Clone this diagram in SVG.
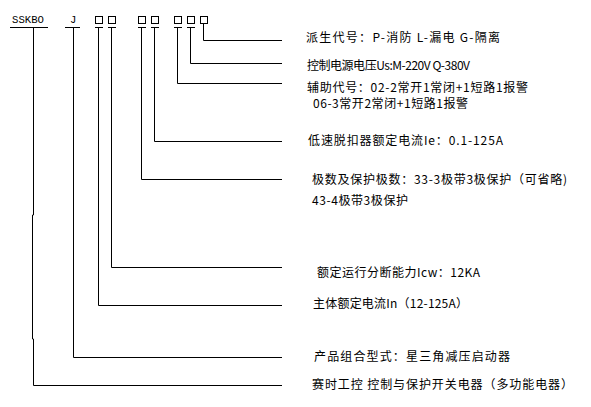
<svg xmlns="http://www.w3.org/2000/svg" width="591" height="407" viewBox="0 0 591 407">
<style>
.ln{fill:none;stroke:#000;stroke-width:1}
.bx{fill:#fff;stroke:#000;stroke-width:1}
.t{font-family:"Noto Sans CJK SC","Liberation Sans",sans-serif;font-size:12px;fill:#000}
.c{font-family:"Liberation Mono","DejaVu Sans Mono",monospace;font-size:10.5px;fill:#000}
</style>
<rect width="591" height="407" fill="#fff"/>
<g id="code">
<text class="c" x="12" y="23" textLength="32" lengthAdjust="spacingAndGlyphs">SSKBO</text>
<text class="c" x="70" y="23">J</text>
<rect class="bx" x="95.5" y="16.5" width="7" height="7"/>
<rect class="bx" x="108.5" y="16.5" width="7" height="7"/>
<rect class="bx" x="138.5" y="16.5" width="7" height="7"/>
<rect class="bx" x="151.5" y="16.5" width="7" height="7"/>
<rect class="bx" x="174.5" y="16.5" width="7" height="7"/>
<rect class="bx" x="187.5" y="16.5" width="7" height="7"/>
<rect class="bx" x="200.5" y="16.5" width="7" height="7"/>
</g>
<g id="connectors">
<path class="ln" d="M10,27.5H48"/>
<path class="ln" d="M33.5,27.5V215H32.5V339H33.5V385.5H282"/>
<path class="ln" d="M65,27.5H80M73.5,27.5V357.5H282"/>
<path class="ln" d="M95,27.5H103M98.5,27.5V305.5H282"/>
<path class="ln" d="M108,27.5H116M111.5,27.5V267.5H282"/>
<path class="ln" d="M138,27.5H146M141.5,27.5V179.5H282"/>
<path class="ln" d="M151,27.5H159M154.5,27.5V141.5H282"/>
<path class="ln" d="M174,27.5H182M177.5,27.5V83.5H282"/>
<path class="ln" d="M187,27.5H195M190.5,27.5V63.5H282"/>
<path class="ln" d="M203.5,23.5V40.5H282"/>
</g>
<g id="labels">
<text class="t" x="306" y="41.5" textLength="194" lengthAdjust="spacing">派生代号：P-消防 L-漏电 G-隔离</text>
<text class="t" x="307" y="70" textLength="163" lengthAdjust="spacing">控制电源电压Us:M-220V Q-380V</text>
<text class="t" x="307" y="91.5" textLength="221" lengthAdjust="spacing">辅助代号：02-2常开1常闭+1短路1报警</text>
<text class="t" x="313" y="107.5" textLength="155" lengthAdjust="spacing">06-3常开2常闭+1短路1报警</text>
<text class="t" x="308" y="144.5" textLength="195" lengthAdjust="spacing">低速脱扣器额定电流Ie：0.1-125A</text>
<text class="t" x="312" y="183.5" textLength="255" lengthAdjust="spacing">极数及保护极数：33-3极带3极保护（可省略)</text>
<text class="t" x="312" y="204.5" textLength="96" lengthAdjust="spacing">43-4极带3极保护</text>
<text class="t" x="317" y="277" textLength="163" lengthAdjust="spacing">额定运行分断能力Icw：12KA</text>
<text class="t" x="313" y="307.5" textLength="155" lengthAdjust="spacing">主体额定电流In（12-125A）</text>
<text class="t" x="314" y="361" textLength="196" lengthAdjust="spacing">产品组合型式：星三角减压启动器</text>
<text class="t" x="312" y="389" textLength="261" lengthAdjust="spacing">赛时工控 控制与保护开关电器（多功能电器）</text>
</g>
</svg>
